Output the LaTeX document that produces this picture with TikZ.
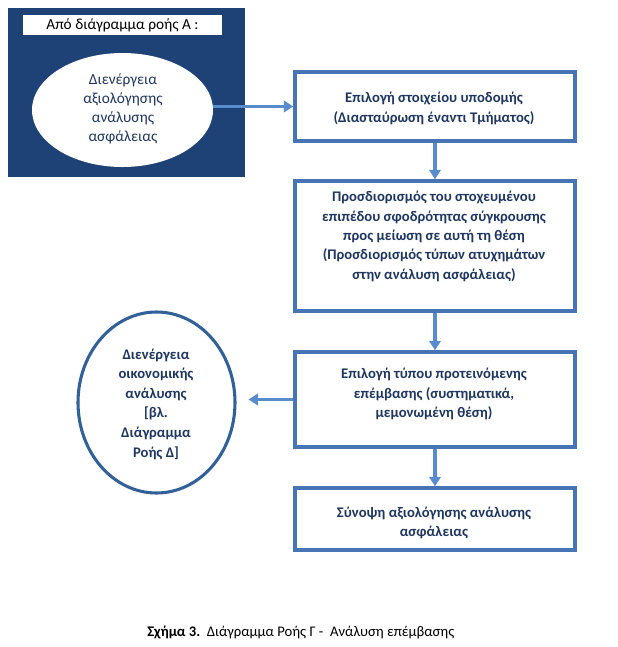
\documentclass[tikz,border=0pt]{standalone}
\usepackage{fontspec}
\setmainfont{Carlito}
\usetikzlibrary{arrows.meta,shapes.geometric}
\definecolor{navy}{RGB}{31,66,118}
\definecolor{boxblue}{RGB}{70,116,180}
\definecolor{ellblue}{RGB}{50,96,152}
\definecolor{arrblue}{RGB}{88,140,205}
\definecolor{txtnavy}{RGB}{30,54,96}
\tikzset{
  stepbox/.style={draw=boxblue, line width=2.6pt, fill=white, rectangle,
    minimum width=210pt, inner sep=0pt},
  btext/.style={text=txtnavy, font=\fontsize{11}{14.5}\selectfont\bfseries, align=center, inner sep=0pt},
  arr/.style={draw=arrblue, line width=2.3pt, -{Triangle[length=7pt,width=8.5pt]}},
}
\begin{document}
\begin{tikzpicture}[x=0.75pt,y=-0.75pt]
\useasboundingbox[fill=white] (0,0) rectangle (618,647);
% source panel
\node[fill=navy, minimum width=177.75pt, minimum height=126.75pt, inner sep=0pt] (panel) at (126.5,92.5) {};
\node[fill=white, minimum width=149.25pt, minimum height=15pt, inner sep=0pt,
      font=\fontsize{11.5}{14}\selectfont, text=black] (lab) at (122.5,25) {Από διάγραμμα ροής Α :};
\node[ellipse, fill=white, minimum width=135.75pt, minimum height=85.5pt, inner sep=0pt] (e1) at (122.5,110) {};
\node[text=txtnavy, font=\fontsize{11.5}{14.3}\selectfont, align=center, inner sep=0pt] (e1t) at (123,109)
  {Διενέργεια\\αξιολόγησης\\ανάλυσης\\ασφάλειας};
% boxes
\node[stepbox, minimum height=51.75pt] (b1) at (435,106.5) {};
\node[btext] (b1t) at (434,108.5) {Επιλογή στοιχείου υποδομής\\(Διασταύρωση έναντι Τμήματος)};
\node[stepbox, minimum height=97.5pt] (b2) at (435,246) {};
\node[btext] (b2t) at (434,236.5) {Προσδιορισμός του στοχευμένου\\επιπέδου σφοδρότητας σύγκρουσης\\προς μείωση σε αυτή τη θέση\\(Προσδιορισμός τύπων ατυχημάτων\\στην ανάλυση ασφάλειας)};
\node[stepbox, minimum height=71.25pt] (b3) at (435,399.5) {};
\node[btext] (b3t) at (434,394) {Επιλογή τύπου προτεινόμενης\\επέμβασης (συστηματικά,\\μεμονωμένη θέση)};
\node[stepbox, minimum height=46.5pt] (b4) at (435,519) {};
\node[btext] (b4t) at (434,523) {Σύνοψη αξιολόγησης ανάλυσης\\ασφάλειας};
% economic analysis ellipse
\node[ellipse, draw=ellblue, line width=2.3pt, fill=white, minimum width=117.75pt, minimum height=135.75pt, inner sep=0pt] (e2) at (156.5,402.5) {};
\node[btext, font=\fontsize{11}{14.7}\selectfont\bfseries] (e2t) at (156,404)
  {Διενέργεια\\οικονομικής\\ανάλυσης\\\relax [βλ.\\Διάγραμμα\\Ροής Δ]};
% connectors
\draw[arr] (b1.west -| e1.east) -- (b1.west);
\draw[arr] (b1.south) -- (b2.north);
\draw[arr] (b2.south) -- (b3.north);
\draw[arr] (b3.south) -- (b4.north);
\draw[arr, shorten >=9pt] (b3.west) -- (b3.west -| e2.east);
% caption
\node[anchor=west, inner sep=0pt, font=\fontsize{11}{13}\selectfont, text=black] (cap) at (147,633)
  {\textbf{Σχήμα 3.}\ \ Διάγραμμα Ροής Γ -\ \ Ανάλυση επέμβασης};
\end{tikzpicture}
\end{document}
